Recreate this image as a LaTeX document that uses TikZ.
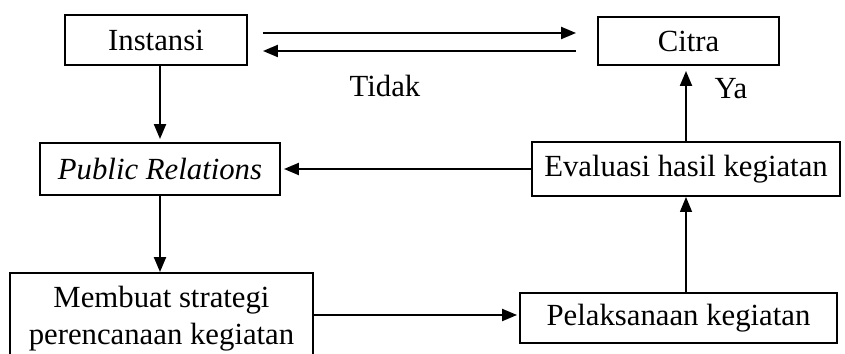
\documentclass[tikz,border=0pt]{standalone}
\usepackage{fontspec}
\setmainfont{Liberation Serif}
\usepackage{tikz}
\usetikzlibrary{arrows.meta,positioning,calc}

\begin{document}
\begin{tikzpicture}[
  x=0.02cm,y=-0.02cm,
  font=\fontsize{17.5}{21}\selectfont,
  box/.style={draw,line width=1.1pt,align=center,inner sep=0pt},
  arr/.style={-{Triangle[length=0.3cm,width=0.24cm]},line width=1.2pt},
  thinarr/.style={-{Triangle[length=0.3cm,width=0.24cm]},line width=0.8pt}
]
\useasboundingbox (0,0) rectangle (845,354);

% Boxes
\node[box,minimum width=3.64cm,minimum height=1.0cm] (inst) at (156,40) {Instansi};
\node[box,minimum width=3.62cm,minimum height=0.96cm] (citra) at (688.5,41) {Citra};
\node[box,minimum width=4.8cm,minimum height=1.04cm] (pr) at (160,169) {\textit{Public Relations}};
\node[box,minimum width=6.16cm,minimum height=1.08cm] (eval) at (686,169) {Evaluasi hasil kegiatan};
\node[box,minimum width=6.06cm,minimum height=1.84cm] (strat) at (161.5,319)
  {Membuat strategi\\perencanaan kegiatan};
\node[box,minimum width=6.34cm,minimum height=1.0cm] (pelak) at (678.5,318) {Pelaksanaan kegiatan};

% Top pair of arrows
\draw[arr,shorten <=0.3cm,shorten >=0.42cm]
  ([yshift=0.14cm]inst.east) -- ([yshift=0.14cm]inst.east -| citra.west);
\draw[arr,shorten <=0.42cm,shorten >=0.3cm]
  ([yshift=-0.22cm]inst.east -| citra.west) -- ([yshift=-0.22cm]inst.east);

% Flow
\draw[arr,shorten >=0.06cm] (inst.south -| pr.north) -- (pr.north);
\draw[arr] (pr.south) -- (pr.south |- strat.north);
\draw[arr,shorten >=0.04cm] (strat.east |- 0,315) -- (pelak.west |- 0,315);
\draw[thinarr] (eval.south |- pelak.north) -- (eval.south);
\draw[arr,shorten >=0.06cm] (eval.west) -- (pr.east);
\draw[arr,shorten >=0.1cm] (eval.north) -- (eval.north |- citra.south);

% Labels
\node (tidak) at (385,86) {Tidak};
\node (ya) at (731,89) {Ya};
\end{tikzpicture}
\end{document}
